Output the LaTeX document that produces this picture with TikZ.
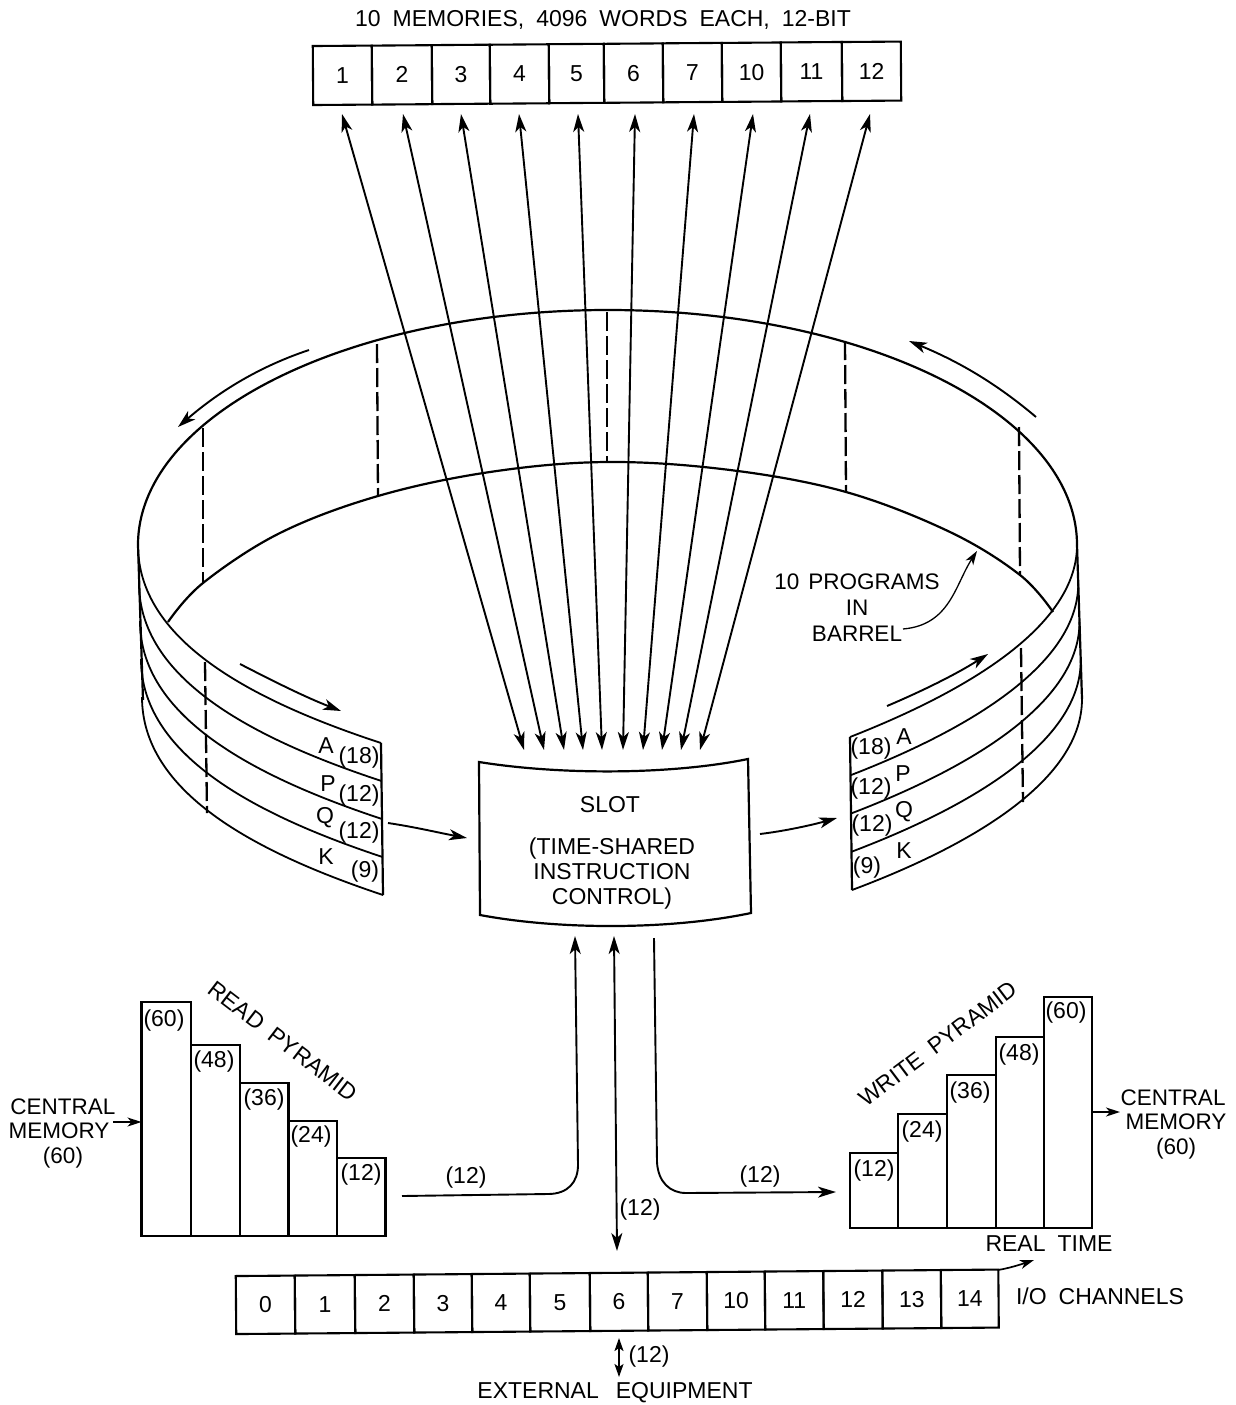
\documentclass[tikz,border=0pt]{standalone}
\usepackage{fontspec}
\setmainfont{Liberation Sans}
\usetikzlibrary{arrows.meta}
\newcommand\lblfont{\fontsize{23}{25}\selectfont\spaceskip 12pt plus 0pt\relax}
\newcommand\cmfont{\fontsize{22.5}{24.5}\selectfont}
\newcommand\progfont{\fontsize{22.5}{26}\selectfont\spaceskip 9pt plus 0pt\relax}
\newcommand\extfont{\fontsize{23}{25}\selectfont\spaceskip 17pt plus 0pt\relax}
\tikzset{
  x=1pt,y=-1pt,
  every node/.style={inner sep=0pt,outer sep=0pt},
  lbl/.style={font=\lblfont},
  heavy/.style={line width=2.2pt},
  band/.style={line width=1.8pt},
  dashline/.style={line width=2.3pt,dash pattern=on 19pt off 5pt},
  tip/.style={-{Stealth[length=18pt,width=11pt,inset=5pt]},line width=1.9pt},
  tips/.style={{Stealth[length=18pt,width=11pt,inset=5pt]}-{Stealth[length=18pt,width=11pt,inset=5pt]},line width=1.9pt},
  smalltip/.style={-{Stealth[length=14pt,width=9pt,inset=4pt]},line width=1.7pt},
  smalltips/.style={{Stealth[length=13pt,width=9pt,inset=3pt]}-{Stealth[length=13pt,width=9pt,inset=3pt]},line width=1.9pt},
  cell/.style={lbl,draw,line width=2.1pt,minimum height=59pt,anchor=center},
  lowcell/.style={cell,rotate=0.45,minimum height=58pt},
  topcell/.style={cell,rotate=0.43,minimum height=59pt},
  bar/.style={draw,line width=2.1pt,anchor=south west},
}
\begin{document}
\begin{tikzpicture}
\useasboundingbox (0,0) rectangle (1235,1405);
\fill[white] (0,0) rectangle (1235,1405);

% barrel, back
\draw[heavy] (138,545) .. controls (138,415) and (348,310) .. (608,310)
  .. controls (868,310) and (1077,415) .. (1077,545);
\draw[heavy] plot[smooth,tension=0.6] coordinates {(168,622) (203,583) (280,533) (378,496) (490,472) (607,462) (730,470) (846,492) (950,532) (1020,575) (1053,612)};
\draw[dashline] (203,428) -- (203,583);
\draw[dashline] (377,344) -- (378,496);
\draw[dashline] (607,312) -- (607,462);
\draw[dashline] (845,341) -- (846,492);
\draw[dashline] (1019,427) -- (1020,575);

% barrel, front left
\draw[heavy] (138,545) -- (143,700);
\foreach \k in {0,...,4}{
  \draw[band] (138+\k,545+38*\k) .. controls (138+\k,640+38*\k) and (250+\k,700+38*\k) .. (381+0.5*\k,743+38*\k);
}
\draw[heavy] (381,743) -- (383,895);
\draw[dashline] (205,662) -- (207,813);
% barrel, front right
\draw[heavy] (1077,545) -- (1082,699);
\foreach \k in {0,...,4}{
  \draw[band] (1077+1.25*\k,545+38.5*\k) .. controls (1077+1.25*\k,625+38.5*\k) and (970+1.25*\k,690+38.5*\k) .. (850+0.5*\k,737+38.25*\k);
}
\draw[heavy] (850,737) -- (852,890);
\draw[dashline] (1021,648) -- (1023,802);

% rotation arrows
\coordinate (ra1) at (309,350); \coordinate (ra2) at (178,427);
\coordinate (rb1) at (1036,417); \coordinate (rb2) at (909,341);
\coordinate (rc1) at (240,664); \coordinate (rc2) at (341,711);
\coordinate (rd1) at (887,706); \coordinate (rd2) at (988,654);
\draw[tip] (ra1) .. controls (255,368) and (215,395) .. (ra2);
\draw[tip] (rb1) .. controls (990,378) and (950,358) .. (rb2);
\draw[tip] (rc1) .. controls (275,682) and (305,697) .. (rc2);
\draw[tip] (rd1) .. controls (920,692) and (955,675) .. (rd2);

% register labels in barrel
\node[lbl] (la) at (326,746) {A};  \node[lbl] (l18) at (359,758) {(18)};
\node[lbl] (lp) at (328,784) {P};  \node[lbl] (l12a) at (359,796) {(12)};
\node[lbl] (lq) at (325,818) {Q};  \node[lbl] (l12b) at (359,833) {(12)};
\node[lbl] (lk) at (326,857) {K};  \node[lbl] (l9) at (365,872) {(9)};
\node[lbl] (rla) at (904,737) {A};  \node[lbl] (r18) at (871,749) {(18)};
\node[lbl] (rlp) at (903,774) {P};  \node[lbl] (r12a) at (871,789) {(12)};
\node[lbl] (rlq) at (904,812) {Q};  \node[lbl] (r12b) at (872,826) {(12)};
\node[lbl] (rlk) at (904,851) {K};  \node[lbl] (r9) at (867,868) {(9)};

% slot
\draw[heavy] (479,762) .. controls (560,775) and (670,775) .. (748,759)
  -- (751,913) .. controls (670,930) and (560,930) .. (480,915) -- cycle;
\node[lbl] (slot) at (610,805) {SLOT};
\node[lbl,align=center] (tsic) at (612,874) {(TIME-SHARED\\INSTRUCTION\\CONTROL)};

% top memory
\node[lbl] (memt) at (603,20) {10 MEMORIES, 4096 WORDS EACH, 12-BIT};
\node[topcell,minimum width=59pt] (m1) at (342.5,75.3) {1};
\node[topcell,minimum width=60pt] (m2) at (402,74.9) {2};
\node[topcell,minimum width=58pt] (m3) at (461,74.4) {3};
\node[topcell,minimum width=59pt] (m4) at (519.5,74) {4};
\node[topcell,minimum width=55pt] (m5) at (576.5,73.5) {5};
\node[topcell,minimum width=59pt] (m6) at (633.5,73.1) {6};
\node[topcell,minimum width=59pt] (m7) at (692.5,72.6) {7};
\node[topcell,minimum width=59pt] (m10) at (751.5,72.2) {10};
\node[topcell,minimum width=61pt] (m11) at (811.5,71.7) {11};
\node[topcell,minimum width=59pt] (m12) at (871.5,71.3) {12};

% memory arrows
\foreach \i/\a/\b in {1/342/524,2/403/544,3/461/564,4/519/583,5/578/602,6/635/623,7/694/643,8/753/662,9/810/681,10/870/700}{
  \coordinate (mu\i) at (\a,114);
  \coordinate (md\i) at (\b,750);
  \draw[tips] (mu\i) -- (md\i);
}

% barrel to slot
\coordinate (ia) at (388,823); \coordinate (ib) at (467,838);
\coordinate (oa) at (760,834); \coordinate (ob) at (837,818);
\draw[tip] (ia) .. controls (415,827) and (440,833) .. (ib);
\draw[tip] (oa) .. controls (785,831) and (812,825) .. (ob);

% programs note
\node[align=center,font=\progfont] (prog) at (857,608) {10 PROGRAMS\\IN\\BARREL};
\coordinate (pa) at (977,551);
\coordinate (pb) at (903,629);
\draw[smalltip,line width=1.3pt] (pb) .. controls (950,625) and (955,585) .. (pa);

% read pyramid
\node[bar,minimum width=49.5pt,minimum height=234pt] (rp60) at (141.5,1236) {};
\node[bar,minimum width=49pt,minimum height=191pt] (rp48) at (191,1236) {};
\node[bar,minimum width=48.5pt,minimum height=153pt] (rp36) at (240,1236) {};
\node[bar,minimum width=48.5pt,minimum height=115pt] (rp24) at (288.5,1236) {};
\node[bar,minimum width=48.5pt,minimum height=78pt] (rp12) at (337,1236) {};
\node[lbl] (rt60) at (164,1021) {(60)};
\node[lbl] (rt48) at (214,1062) {(48)};
\node[lbl] (rt36) at (264,1100) {(36)};
\node[lbl] (rt24) at (311,1137) {(24)};
\node[lbl] (rt12) at (361,1175) {(12)};
\node[lbl,rotate=-37.5] (rpt) at (283,1041) {READ PYRAMID};
\node[font=\cmfont,align=center] (cmi) at (63,1133) {CENTRAL\\MEMORY\kern8pt\\(60)};
\coordinate (cmia) at (113,1122);
\draw[smalltip] (cmia) -- (rp60.west |- cmia);

% write pyramid
\node[bar,minimum width=47.6pt,minimum height=75pt] (wp12) at (850,1228) {};
\node[bar,minimum width=49.4pt,minimum height=114pt] (wp24) at (897.6,1228) {};
\node[bar,minimum width=49pt,minimum height=153pt] (wp36) at (947,1228) {};
\node[bar,minimum width=48pt,minimum height=191pt] (wp48) at (996,1228) {};
\node[bar,minimum width=48pt,minimum height=231pt] (wp60) at (1044,1228) {};
\node[lbl] (wt12) at (874,1171) {(12)};
\node[lbl] (wt24) at (922,1132) {(24)};
\node[lbl] (wt36) at (970,1093) {(36)};
\node[lbl] (wt48) at (1019,1055) {(48)};
\node[lbl] (wt60) at (1066,1013) {(60)};
\node[lbl,rotate=37] (wpt) at (938,1044) {WRITE PYRAMID};
\node[font=\cmfont,align=center] (cmo) at (1173,1124) {CENTRAL\\\kern6pt MEMORY\\\kern6pt (60)};
\coordinate (cmoa) at (1120,1112);
\draw[smalltip] (wp60.east |- cmoa) -- (cmoa);

% slot links
\coordinate (rl0) at (402,1196); \coordinate (rl1) at (575,936);
\draw[tip] (rl0) -- (548,1194) .. controls (568,1194) and (578,1182) .. (578,1165) -- (rl1);
\node[lbl] (rl12) at (466,1178) {(12)};
\coordinate (wl0) at (654,938); \coordinate (wl1) at (836,1192);
\draw[tip] (wl0) -- (657,1162) .. controls (658,1182) and (670,1193) .. (686,1193) -- (wl1);
\node[lbl] (wl12) at (760,1177) {(12)};
\coordinate (io0) at (614,936); \coordinate (io1) at (617,1251);
\draw[tips] (io0) -- (io1);
\node[lbl] (io12) at (640,1210) {(12)};

% io channels
\node[lowcell,minimum width=59pt] (c0) at (265.5,1304.8) {0};
\node[lowcell,minimum width=60pt] (c1) at (325,1304.3) {1};
\node[lowcell,minimum width=59pt] (c2) at (384.5,1303.8) {2};
\node[lowcell,minimum width=58pt] (c3) at (443,1303.3) {3};
\node[lowcell,minimum width=58pt] (c4) at (501,1302.8) {4};
\node[lowcell,minimum width=60pt] (c5) at (560,1302.3) {5};
\node[lowcell,minimum width=58pt] (c6) at (619,1301.8) {6};
\node[lowcell,minimum width=59pt] (c7) at (677.5,1301.3) {7};
\node[lowcell,minimum width=58pt] (c10) at (736,1300.8) {10};
\node[lowcell,minimum width=58.5pt] (c11) at (794.2,1300.3) {11};
\node[lowcell,minimum width=59pt] (c12) at (853,1299.8) {12};
\node[lowcell,minimum width=58.5pt] (c13) at (911.8,1299.3) {13};
\node[lowcell,minimum width=57.5pt] (c14) at (969.8,1298.8) {14};
\node[lbl] (ioc) at (1100,1296) {I/O CHANNELS};
\node[lbl] (rtm) at (1049,1244) {REAL TIME};
\coordinate (rta) at (1034,1260);
\coordinate (rtb) at (998,1270);
\draw[smalltip] (rtb) .. controls (1010,1268) and (1022,1264) .. (rta);
\coordinate (ex0) at (619,1338); \coordinate (ex1) at (619,1377);
\draw[smalltips] (ex0) -- (ex1);
\node[lbl] (ex12) at (649,1357) {(12)};
\node[font=\extfont] (ext) at (615,1393) {EXTERNAL EQUIPMENT};
\end{tikzpicture}
\end{document}
